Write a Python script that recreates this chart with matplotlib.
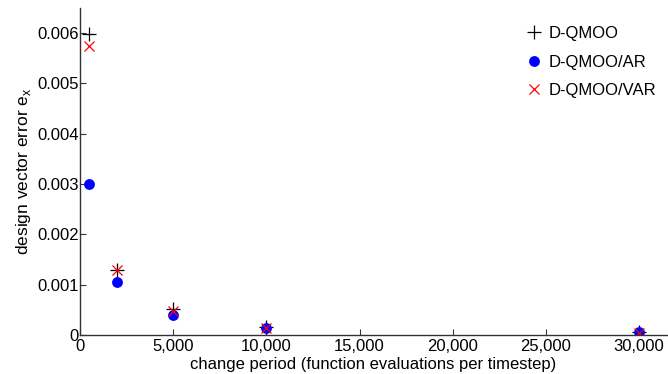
import matplotlib
matplotlib.use('Agg')
import matplotlib.pyplot as plt
from matplotlib.ticker import FuncFormatter

plt.rcParams['font.family'] = ['Liberation Sans', 'DejaVu Sans']

# change period (function evaluations per timestep)
periods = [500, 2000, 5000, 10000, 30000]

# design vector error per algorithm
err_qmoo = [0.00598, 0.00130, 0.00051, 0.00015, 0.000055]
err_ar = [0.00300, 0.00105, 0.00039, 0.00014, 0.000050]
err_var = [0.00575, 0.00129, 0.00048, 0.00014, 0.000040]

xticks = [0, 5000, 10000, 15000, 20000, 25000, 30000]
yticks = [0, 0.001, 0.002, 0.003, 0.004, 0.005, 0.006]

fig = plt.figure(figsize=(6.68, 3.74), dpi=100)
ax = fig.add_axes([0.1198, 0.1043, 0.8787, 0.8743])

ax.plot(periods, err_qmoo, linestyle='none', marker='+', color='black',
        markersize=10.5, markeredgewidth=0.9, label='D-QMOO')
ax.plot(periods, err_ar, linestyle='none', marker='o', color='blue',
        markersize=7.8, markeredgewidth=0, label='D-QMOO/AR')
ax.plot(periods, err_var, linestyle='none', marker='x', color='red',
        markersize=7.5, markeredgewidth=0.9, label='D-QMOO/VAR')

ax.set_xlim(0, 31500)
ax.set_ylim(0, 0.0065)
ax.set_xticks(xticks)
ax.set_yticks(yticks)
ax.xaxis.set_major_formatter(FuncFormatter(lambda v, p: f'{int(v):,}'))
ax.yaxis.set_major_formatter(FuncFormatter(lambda v, p: '0' if v == 0 else f'{v:.3f}'))

for s in ['top', 'right']:
    ax.spines[s].set_visible(False)
for s in ['left', 'bottom']:
    ax.spines[s].set_color('#333333')
    ax.spines[s].set_linewidth(1.0)

ax.tick_params(direction='in', length=4, width=0.8, color='#333333',
               labelsize=12)
ax.tick_params(axis='x', pad=3)
ax.tick_params(axis='y', pad=1)

ax.set_xlabel('change period (function evaluations per timestep)', fontsize=12, labelpad=2)
ax.set_ylabel('design vector error e$_\\mathregular{x}$', fontsize=12.5, labelpad=3)

ax.legend(loc='upper right', frameon=False, fontsize=12, handletextpad=0.2,
          handlelength=1.4, labelspacing=0.8, borderaxespad=0.5,
          bbox_to_anchor=(1.008, 0.99))

fig.savefig('out.png', dpi=100)
